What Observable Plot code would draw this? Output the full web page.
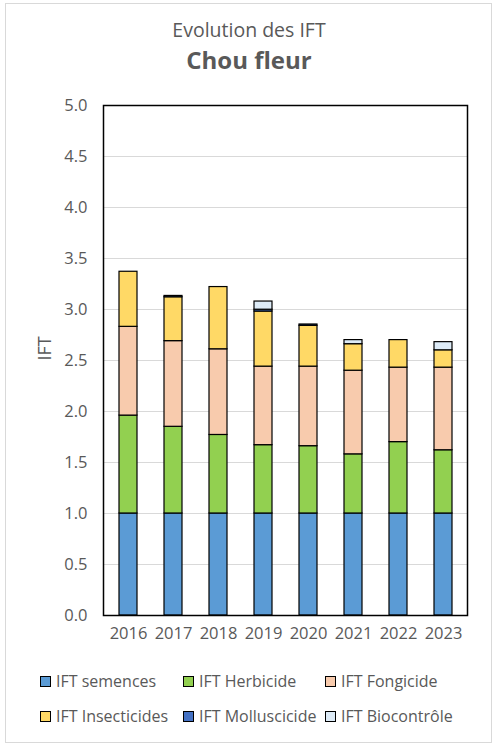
<!DOCTYPE html>
<html>
<head>
<meta charset="utf-8">
<script src="https://cdn.jsdelivr.net/npm/d3@7"></script>
<script src="https://cdn.jsdelivr.net/npm/@observablehq/plot@0.6"></script>
<style>
  body { margin: 0; background: #fff; font-family: "Open Sans", sans-serif; color: #595959; }
  #chart { position: relative; width: 498px; height: 745px; overflow: hidden; }
  #border { position: absolute; left: 5px; top: 3px; width: 485px; height: 738px; border: 1.5px solid #d9d9d9; }
  .t1 { position: absolute; top: 16px; left: 0; width: 498px; text-align: center; font-size: 19.5px; }
  .t2 { position: absolute; top: 43px; left: 0; width: 498px; text-align: center; font-size: 24px; font-weight: bold; }
  #plot { position: absolute; left: 0; top: 90px; }
  .leg { position: absolute; font-size: 16px; white-space: nowrap; line-height: 20px; }
  .sw { display: inline-block; width: 9px; height: 9px; border: 1.2px solid #000; margin-right: 5px; vertical-align: -0px; }
</style>
</head>
<body>
<div id="chart">
  <div id="border"></div>
  <div class="t1">Evolution des IFT</div>
  <div class="t2">Chou fleur</div>
  <div id="plot"></div>
</div>
<script>
const years = ["2016","2017","2018","2019","2020","2021","2022","2023"];
const series = ["IFT semences","IFT Herbicide","IFT Fongicide","IFT Insecticides","IFT Molluscicide","IFT Biocontrôle"];
const colors = ["#5B9BD5","#92D050","#F8CBAD","#FFD966","#4472C4","#DDEBF7"];
const semences     = [1.00,1.00,1.00,1.00,1.00,1.00,1.00,1.00];
const herbicide    = [0.96,0.85,0.77,0.67,0.66,0.58,0.70,0.62];
const fongicide    = [0.87,0.84,0.84,0.77,0.78,0.82,0.73,0.81];
const insecticides = [0.54,0.43,0.61,0.54,0.40,0.26,0.27,0.17];
const molluscicide = [0.00,0.013,0.00,0.018,0.013,0.00,0.00,0.00];
const biocontrole  = [0.00,0.00,0.00,0.08,0.00,0.04,0.00,0.08];
const yTicks = [0,0.5,1,1.5,2,2.5,3,3.5,4,4.5,5];

const valuesBySeries = [semences, herbicide, fongicide, insecticides, molluscicide, biocontrole];
const data = [];
years.forEach((y, i) => {
  series.forEach((s, j) => {
    const v = valuesBySeries[j][i];
    if (v > 0) data.push({year: y, serie: s, value: v});
  });
});

const plot = Plot.plot({
  width: 498,
  height: 570,
  marginLeft: 103,
  marginRight: 31,
  marginTop: 15,
  marginBottom: 45,
  style: {fontFamily: "Open Sans, sans-serif", fontSize: "16.5px", color: "#595959", background: "transparent"},
  x: {domain: years, paddingInner: 0.6, paddingOuter: 0.3, label: null, tickSize: 0, tickPadding: 12},
  y: {domain: [0, 5], ticks: yTicks, tickFormat: d3.format(".1f"), tickSize: 0, tickPadding: 16, label: null},
  color: {domain: series, range: colors},
  marks: [
    Plot.gridY(yTicks, {stroke: "#d9d9d9", strokeOpacity: 1, strokeWidth: 1.2}),
    Plot.barY(data, {x: "year", y: "value", fill: "serie", stroke: "#000", strokeWidth: 1.2}),
    Plot.frame({stroke: "#000", strokeWidth: 1.5}),
    Plot.text(["IFT"], {frameAnchor: "left", dx: -58, rotate: -90, fontSize: 18, fill: "#595959"})
  ]
});
document.getElementById("plot").appendChild(plot);

const chart = document.getElementById("chart");
const cols = [40, 183, 325];
series.forEach((s, j) => {
  const d = document.createElement("div");
  d.className = "leg";
  d.style.left = cols[j % 3] + "px";
  d.style.top = (j < 3 ? 671 : 706) + "px";
  d.innerHTML = `<span class="sw" style="background:${colors[j]}"></span>${s}`;
  chart.appendChild(d);
});
</script>
</body>
</html>
